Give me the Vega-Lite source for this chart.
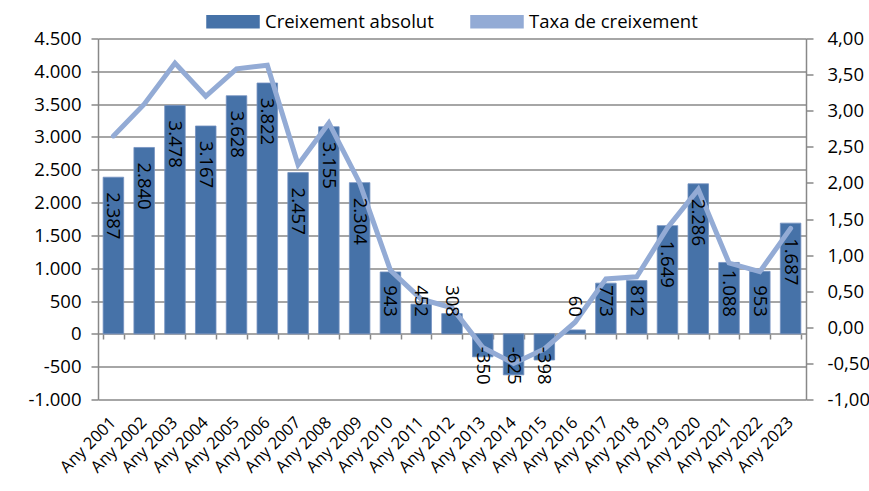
{
  "$schema": "https://vega.github.io/schema/vega-lite/v6.json",
  "autosize": {"type": "none"},
  "width": 708,
  "height": 361,
  "padding": {"left": 98, "top": 38.5, "right": 63, "bottom": 91.5},
  "background": "white",
  "config": {
    "locale": {"number": {"decimal": ",", "thousands": ".", "grouping": [3], "currency": ["", " €"], "minus": "-"}},
    "font": "Open Sans",
    "view": {"stroke": null},
    "axis": {"labelFont": "Open Sans", "labelColor": "#000000", "domainColor": "#888888", "tickColor": "#888888", "gridColor": "#888888", "domainWidth": 1.5, "tickWidth": 1.5, "gridWidth": 1.5, "labelOverlap": false, "labelFlush": false}
  },
  "data": {"values": [
    {"any": "Any 2001", "abs": 2387, "taxa": 2.65},
    {"any": "Any 2002", "abs": 2840, "taxa": 3.09},
    {"any": "Any 2003", "abs": 3478, "taxa": 3.66},
    {"any": "Any 2004", "abs": 3167, "taxa": 3.2},
    {"any": "Any 2005", "abs": 3628, "taxa": 3.58},
    {"any": "Any 2006", "abs": 3822, "taxa": 3.63},
    {"any": "Any 2007", "abs": 2457, "taxa": 2.25},
    {"any": "Any 2008", "abs": 3155, "taxa": 2.83},
    {"any": "Any 2009", "abs": 2304, "taxa": 2.0},
    {"any": "Any 2010", "abs": 943, "taxa": 0.79},
    {"any": "Any 2011", "abs": 452, "taxa": 0.39},
    {"any": "Any 2012", "abs": 308, "taxa": 0.27},
    {"any": "Any 2013", "abs": -350, "taxa": -0.28},
    {"any": "Any 2014", "abs": -625, "taxa": -0.5},
    {"any": "Any 2015", "abs": -398, "taxa": -0.3},
    {"any": "Any 2016", "abs": 60, "taxa": 0.07},
    {"any": "Any 2017", "abs": 773, "taxa": 0.67},
    {"any": "Any 2018", "abs": 812, "taxa": 0.7},
    {"any": "Any 2019", "abs": 1649, "taxa": 1.38},
    {"any": "Any 2020", "abs": 2286, "taxa": 1.91},
    {"any": "Any 2021", "abs": 1088, "taxa": 0.89},
    {"any": "Any 2022", "abs": 953, "taxa": 0.77},
    {"any": "Any 2023", "abs": 1687, "taxa": 1.37}
  ]},
  "encoding": {
    "x": {"field": "any", "type": "nominal", "sort": null,
      "scale": {"paddingInner": 0.333, "paddingOuter": 0.1667}}
  },
  "layer": [
    {
      "mark": {"type": "bar", "color": "#4672A8", "stroke": "#7391C0", "strokeWidth": 0.8},
      "encoding": {
        "x": {"field": "any", "type": "nominal", "sort": null,
          "axis": {"orient": "bottom", "title": null, "labelAngle": -45, "labelAlign": "right", "labelBaseline": "middle", "labelFontSize": 16.5, "labelPadding": 20, "ticks": false, "tickSize": 0, "domain": false, "grid": false}},
        "y": {"field": "abs", "type": "quantitative", "stack": null,
          "scale": {"domain": [-1000, 4500], "nice": false, "zero": false},
          "axis": {"orient": "left", "title": null, "values": [-1000, -500, 0, 500, 1000, 1500, 2000, 2500, 3000, 3500, 4000, 4500], "format": ",.0f", "labelFontSize": 18.5, "labelPadding": 10, "tickSize": 7, "grid": true}},
        "color": {"datum": "Creixement absolut", "type": "nominal",
          "scale": {"domain": ["Creixement absolut", "Taxa de creixement"], "range": ["#4672A8", "#93ABD5"]},
          "legend": {"orient": "none", "legendX": 108, "legendY": -44, "direction": "horizontal", "title": null, "labelFontSize": 18.5, "labelFont": "Open Sans", "labelColor": "#000000", "labelLimit": 400, "symbolSize": 2704, "symbolType": "M-1,-0.23H1V0.23H-1Z", "labelOffset": 5, "columnPadding": 34,
            "encode": {"symbols": {"update": {
              "shape": {"signal": "datum.value == 'Taxa de creixement' ? 'M-1,0H1' : 'M-1,-0.23H1V0.23H-1Z'"},
              "fill": {"signal": "datum.value == 'Taxa de creixement' ? 'transparent' : '#4672A8'"},
              "stroke": {"signal": "datum.value == 'Taxa de creixement' ? '#93ABD5' : 'transparent'"},
              "strokeWidth": {"value": 5},
              "strokeCap": {"value": "round"},
              "opacity": {"value": 1}
            }}}}}
      }
    },
    {
      "mark": {"type": "line", "strokeWidth": 5, "strokeCap": "round", "strokeJoin": "miter"},
      "encoding": {
        "x": {"field": "any", "type": "nominal", "sort": null,
          "axis": {"orient": "bottom", "title": null, "offset": -65.5, "labels": false, "domain": false, "grid": false, "ticks": true, "tickSize": 5, "tickBand": "extent"}},
        "y": {"field": "taxa", "type": "quantitative",
          "scale": {"domain": [-1, 4], "nice": false, "zero": false},
          "axis": {"orient": "right", "title": null, "values": [-1, -0.5, 0, 0.5, 1, 1.5, 2, 2.5, 3, 3.5, 4], "format": ".2f", "labelFontSize": 18.5, "labelPadding": 14, "tickSize": 7, "grid": false}},
        "color": {"datum": "Taxa de creixement", "type": "nominal"}
      }
    },
    {
      "layer": [
        {
          "transform": [{"filter": "datum.abs >= 1200"}],
          "mark": {"type": "text", "angle": 90, "align": "left", "baseline": "middle", "dx": 15, "fontSize": 18.5, "font": "Open Sans", "color": "#000000"},
          "encoding": {
            "x": {"field": "any", "type": "nominal", "sort": null, "axis": null},
            "y": {"field": "abs", "type": "quantitative", "stack": null, "axis": null,
              "scale": {"domain": [-1000, 4500], "nice": false, "zero": false}},
            "text": {"field": "abs", "type": "quantitative", "format": ",.0f"}
          }
        },
        {
          "transform": [{"filter": "datum.abs >= 0 && datum.abs < 1200"}],
          "mark": {"type": "text", "angle": 90, "align": "right", "baseline": "middle", "dx": -17, "fontSize": 18.5, "font": "Open Sans", "color": "#000000"},
          "encoding": {
            "x": {"field": "any", "type": "nominal", "sort": null, "axis": null},
            "y": {"datum": 0, "type": "quantitative", "axis": null},
            "text": {"field": "abs", "type": "quantitative", "format": ",.0f"}
          }
        },
        {
          "transform": [{"filter": "datum.abs < 0"}],
          "mark": {"type": "text", "angle": 90, "align": "left", "baseline": "middle", "dx": 13, "fontSize": 18.5, "font": "Open Sans", "color": "#000000"},
          "encoding": {
            "x": {"field": "any", "type": "nominal", "sort": null, "axis": null},
            "y": {"datum": 0, "type": "quantitative", "axis": null},
            "text": {"field": "abs", "type": "quantitative", "format": ",.0f"}
          }
        }
      ]
    }
  ],
  "resolve": {"scale": {"y": "independent"}, "axis": {"x": "independent"}}
}
